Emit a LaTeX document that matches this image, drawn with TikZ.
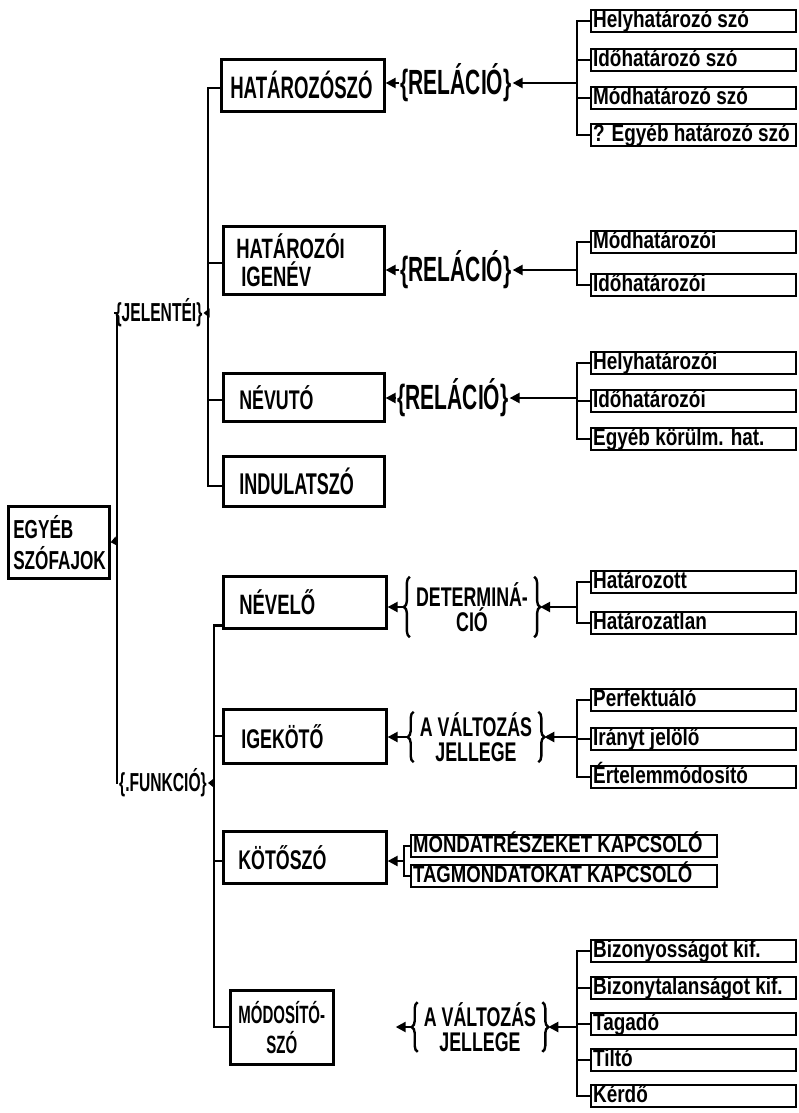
\documentclass[tikz,border=0pt]{standalone}
\usepackage{fontspec}
\setmainfont{Liberation Sans}
\newfontfamily\cf{Liberation Sans}[FakeStretch=0.6]
\newfontfamily\mf{Liberation Sans}[FakeStretch=0.66]
\newfontfamily\lf{Liberation Sans}[FakeStretch=0.79]
\usetikzlibrary{arrows.meta,decorations.pathreplacing}
\newcommand\fsz[2]{\fontsize{#1}{#2}\selectfont}
\newcommand\LT[1]{\makebox[201pt][l]{#1}}
\newcommand\LW[1]{\makebox[302pt][l]{#1}}
\begin{document}
\begin{tikzpicture}[x=1pt,y=-1pt,
  ln/.style={line width=2.3pt},
  catbox/.style={draw, line width=2.6pt, anchor=north west, align=left, inner ysep=0pt},
  leaf/.style={draw, line width=2.2pt, anchor=west, inner xsep=2pt, inner ysep=0.5pt, text height=17pt, text depth=4pt, font=\lf\bfseries\fsz{24}{24}},
  arr/.style={line width=2.3pt, -{Triangle[length=10pt,width=10pt]}},
  sarr/.style={line width=2.3pt, -{Triangle[length=6pt,width=9pt]}},
  lab/.style={inner sep=1pt},
  twolab/.style={inner xsep=2pt, inner ysep=0pt, align=center, font=\mf\bfseries\fsz{27}{25}},
  brc/.style={decorate, decoration={brace, amplitude=6pt}, line width=2.4pt},
]
\useasboundingbox (0,0) rectangle (799,1113);

% root
\node[catbox, text width=91pt, inner xsep=5pt, minimum height=72pt, font=\mf\bfseries\fsz{26}{31}] (root) at (7,505) {EGYÉB\\SZÓFAJOK};

% level 1 labels
\node[lab, font=\cf\bfseries\fsz{26}{26}] (jel) at (159,313) {\{JELENTÉI\}};
\node[lab, font=\cf\bfseries\fsz{26}{26}] (funk) at (163,783) {\{.FUNKCIÓ\}};

% level 2 boxes
\node[catbox, minimum height=52pt, text width=145pt, inner xsep=9pt, font=\cf\bfseries\fsz{31}{31}] (hsz) at (220,58) {HATÁROZÓSZÓ};
\node[catbox, minimum height=68pt, text width=135pt, inner xsep=13pt, font=\mf\bfseries\fsz{28}{28}] (hig) at (222,225) {HATÁROZÓI\\\hspace*{5pt}IGENÉV};
\node[catbox, minimum height=48pt, text width=129pt, inner xsep=16pt, font=\mf\bfseries\fsz{27}{27}] (nvu) at (222,372) {NÉVUTÓ};
\node[catbox, minimum height=50pt, text width=129pt, inner xsep=16pt, font=\cf\bfseries\fsz{30}{30}] (ind) at (222,455) {INDULATSZÓ};
\node[catbox, minimum height=52pt, text width=131pt, inner xsep=16pt, font=\mf\bfseries\fsz{28}{28}] (nel) at (222,575) {NÉVELŐ};
\node[catbox, minimum height=54pt, text width=127pt, inner xsep=18pt, font=\mf\bfseries\fsz{27}{27}] (ige) at (222,708) {IGEKÖTŐ};
\node[catbox, minimum height=52pt, text width=133pt, inner xsep=15pt, font=\mf\bfseries\fsz{27}{27}] (kot) at (222,830) {KÖTŐSZÓ};
\node[catbox, minimum height=74pt, text width=93pt, inner xsep=5pt, align=center, font=\cf\bfseries\fsz{25}{30}] (mod) at (229,989) {MÓDOSÍTÓ-\\SZÓ};

% level 3 labels
\node[lab, font=\cf\bfseries\fsz{35}{35}] (rel1) at (456,83) {\{RELÁCIÓ\}};
\node[lab, font=\cf\bfseries\fsz{35}{35}] (rel2) at (456,270) {\{RELÁCIÓ\}};
\node[lab, font=\cf\bfseries\fsz{35}{35}] (rel3) at (453,398) {\{RELÁCIÓ\}};
\node[twolab, minimum height=60pt] (det) at (472,607) {DETERMINÁ-\\CIÓ};
\node[twolab, minimum height=50pt] (vj1) at (476,737) {A VÁLTOZÁS\\JELLEGE};
\node[twolab, minimum height=46pt] (vj2) at (480,1027) {A VÁLTOZÁS\\JELLEGE};
\foreach \n in {det,vj1,vj2}{
  \draw[brc] ([xshift=-4pt]\n.south west) -- ([xshift=-4pt]\n.north west);
  \draw[brc] ([xshift=4pt]\n.north east) -- ([xshift=4pt]\n.south east);
  \coordinate (\n L) at ([xshift=-10pt]\n.west);
  \coordinate (\n R) at ([xshift=10pt]\n.east);
}
\coordinate (modtip) at ([xshift=-16pt]vj2L);

% leaves
\node[leaf] (a1) at (590,21) {\LT{Helyhatározó szó}};
\node[leaf] (a2) at (590,60) {\LT{Időhatározó szó}};
\node[leaf] (a3) at (590,98) {\LT{Módhatározó szó}};
\node[leaf] (a4) at (590,135) {\LT{? Egyéb határozó szó}};
\node[leaf] (b1) at (590,242) {\LT{Módhatározói}};
\node[leaf] (b2) at (590,285) {\LT{Időhatározói}};
\node[leaf] (c1) at (590,363) {\LT{Helyhatározói}};
\node[leaf] (c2) at (590,401) {\LT{Időhatározói}};
\node[leaf] (c3) at (590,439) {\LT{Egyéb körülm. hat.}};
\node[leaf] (d1) at (590,582) {\LT{Határozott}};
\node[leaf] (d2) at (590,623) {\LT{Határozatlan}};
\node[leaf] (e1) at (590,700) {\LT{Perfektuáló}};
\node[leaf] (e2) at (590,739) {\LT{Irányt jelölő}};
\node[leaf] (e3) at (590,777) {\LT{Értelemmódosító}};
\node[leaf, font=\lf\bfseries\fsz{23.5}{23.5}] (m1) at (410,846) {\LW{MONDATRÉSZEKET KAPCSOLÓ}};
\node[leaf, font=\lf\bfseries\fsz{23.5}{23.5}] (m2) at (410,876) {\LW{TAGMONDATOKAT KAPCSOLÓ}};
\node[leaf] (g1) at (590,951) {\LT{Bizonyosságot kif.}};
\node[leaf] (g2) at (590,988) {\LT{Bizonytalanságot kif.}};
\node[leaf] (g3) at (590,1024) {\LT{Tagadó}};
\node[leaf] (g4) at (590,1060) {\LT{Tiltó}};
\node[leaf] (g5) at (590,1096) {\LT{Kérdő}};

% main trunk
\coordinate (mvt) at (117,313);
\coordinate (mvb) at (117,783);
\coordinate (rj) at (117,541);
\draw[ln] (jel.west) -- (mvt) -- (mvb) -- (funk.west);
\draw[sarr] (rj) -- (root.east);
\coordinate (v2j) at (208,313);
\draw[sarr] (v2j) -- (jel.east);
\coordinate (v2f) at (214,783);
\draw[sarr] (v2f) -- (funk.east);

% level 2 connectors
\draw[ln] ([yshift=-3pt]hsz.west) -- ++(-12,0) |- ([yshift=-5pt]ind.west);
\draw[ln] ([yshift=-3pt]hig.west) -- ++(-14,0);
\draw[ln] ([yshift=-3pt]nvu.west) -- ++(-14,0);
\draw[ln] ([yshift=4pt]nel.south west) -- ++(-8,0) |- (mod.west);
\draw[ln] (ige.west) -- ++(-8,0);
\draw[ln] ([yshift=-4pt]kot.west) -- ++(-8,0);

% level 3 arrows to boxes
\draw[arr] (rel1.west) -- (rel1.west -| hsz.east);
\draw[arr] (rel2.west) -- (rel2.west -| hig.east);
\draw[arr] (rel3.west) -- (rel3.west -| nvu.east);
\draw[arr] (detL) -- (detL -| nel.east);
\draw[arr] (vj1L) -- (vj1L -| ige.east);
\draw[arr] (vj2L) -- (modtip);

% leaf groups
\draw[ln] (a1.west) -- ++(-13,0) |- (a4.west);
\draw[ln] (a2.west) -- ++(-13,0);
\draw[ln] (a3.west) -- ++(-13,0);
\coordinate (ja) at (577,83);
\draw[arr] (ja) -- (rel1.east);

\draw[ln] (b1.west) -- ++(-13,0) |- (b2.west);
\coordinate (jb) at (577,270);
\draw[arr] (jb) -- (rel2.east);

\draw[ln] (c1.west) -- ++(-13,0) |- (c3.west);
\draw[ln] (c2.west) -- ++(-13,0);
\coordinate (jc) at (577,398);
\draw[arr] (jc) -- (rel3.east);

\draw[ln] (d1.west) -- ++(-13,0) |- (d2.west);
\coordinate (jd) at (577,607);
\draw[arr] (jd) -- (detR);

\draw[ln] (e1.west) -- ++(-13,0) |- (e3.west);
\draw[ln] (e2.west) -- ++(-13,0);
\coordinate (je) at (577,737);
\draw[arr] (je) -- (vj1R);

\draw[ln] (m1.west) -- ++(-6,0) |- (m2.west);
\coordinate (jm) at (404,861);
\draw[arr] (jm) -- (jm -| kot.east);

\draw[ln] (g1.west) -- ++(-13,0) |- (g5.west);
\draw[ln] (g2.west) -- ++(-13,0);
\draw[ln] (g3.west) -- ++(-13,0);
\draw[ln] (g4.west) -- ++(-13,0);
\coordinate (jg) at (577,1027);
\draw[arr] (jg) -- (vj2R);
\end{tikzpicture}
\end{document}
